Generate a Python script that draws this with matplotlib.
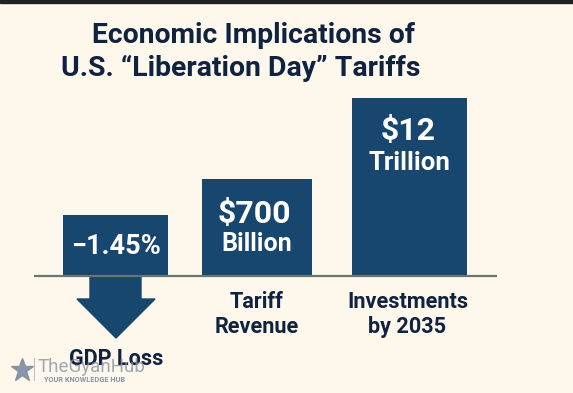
import matplotlib
matplotlib.use("Agg")
import matplotlib.pyplot as plt
from matplotlib.patches import Rectangle

plt.rcParams['font.family'] = ['Roboto', 'Noto Sans', 'DejaVu Sans']

categories = ["GDP Loss", "Tariff\nRevenue", "Investments\nby 2035"]
bar_labels = ["\u22121.45%", "$700\nBillion", "$12\nTrillion"]
# drawn heights of the schematic bars (the source chart is not to scale)
bar_heights = [61, 97, 178]
title_lines = ["Economic Implications of", "U.S. “Liberation Day” Tariffs"]

BG = "#FEF7EC"
BAR = "#17466F"
INK = "#0F2340"

fig = plt.figure(figsize=(5.73, 3.93), dpi=100, facecolor=BG)
ax = fig.add_axes([0, 0, 1, 1])
ax.set_xlim(0, 573)
ax.set_ylim(-117, 276)
ax.axis("off")

lefts = [63, 202, 352]
widths = [105, 110, 115]
centers = [l + w / 2 for l, w in zip(lefts, widths)]
ax.bar(centers, bar_heights, width=widths, color=BAR, zorder=2)
ax.plot([34, 497], [0, 0], color="#6B7570", lw=1.6, zorder=3, solid_capstyle="butt")

# top strip
ax.add_patch(Rectangle((0, 273), 573, 3, color="#222222", zorder=5))

# down arrow beneath first bar
ax.fill([90, 141, 141, 155, 116, 77, 90], [0, 0, -23, -23, -62, -23, -23], color=BAR, zorder=2)

# title
W = "bold"
ax.text(253, 240.5, title_lines[0], ha="center", va="center", fontsize=20.4, fontweight=W, color=INK)
ax.text(240.5, 207.5, title_lines[1], ha="center", va="center", fontsize=20.4, fontweight=W, color=INK)

# bar labels
ax.text(116, 30, bar_labels[0], ha="center", va="center", fontsize=19.5, fontweight=W, color="white", zorder=4)
l2 = bar_labels[1].split("\n")
l3 = bar_labels[2].split("\n")
ax.text(254, 62.5, l2[0], ha="center", va="center", fontsize=23, fontweight=W, color="white", zorder=4)
ax.text(257, 32, l2[1], ha="center", va="center", fontsize=18, fontweight=W, color="white", zorder=4)
ax.text(408, 145, l3[0], ha="center", va="center", fontsize=23, fontweight=W, color="white", zorder=4)
ax.text(409, 113, l3[1], ha="center", va="center", fontsize=18.5, fontweight=W, color="white", zorder=4)

# category labels
ax.text(116.5, -83, categories[0], ha="center", va="center", fontsize=15.6, fontweight=W, color=INK, zorder=4)
for cx, lab in zip([257, 407.5], categories[1:]):
    a, b = lab.split("\n")
    ax.text(cx, -26, a, ha="center", va="center", fontsize=15.6, fontweight=W, color=INK, zorder=4)
    ax.text(cx, -51, b, ha="center", va="center", fontsize=15.6, fontweight=W, color=INK, zorder=4)

# watermark
ax.plot([22], [-94], marker="*", ms=17, color="#7F8CA3", zorder=6, alpha=0.9)
ax.plot([33.5, 33.5], [-82, -104], color="#B8BCC4", lw=0.7, zorder=6)
ax.text(38, -91, "TheGyanHub", ha="left", va="center", fontsize=13.5, color="#8A93A3", alpha=0.8, zorder=6)
ax.text(43.5, -104, "YOUR KNOWLEDGE HUB", ha="left", va="center", fontsize=5.3, fontweight="bold", color="#8A93A3", zorder=6)

fig.savefig("out.png", dpi=100, facecolor=BG)
